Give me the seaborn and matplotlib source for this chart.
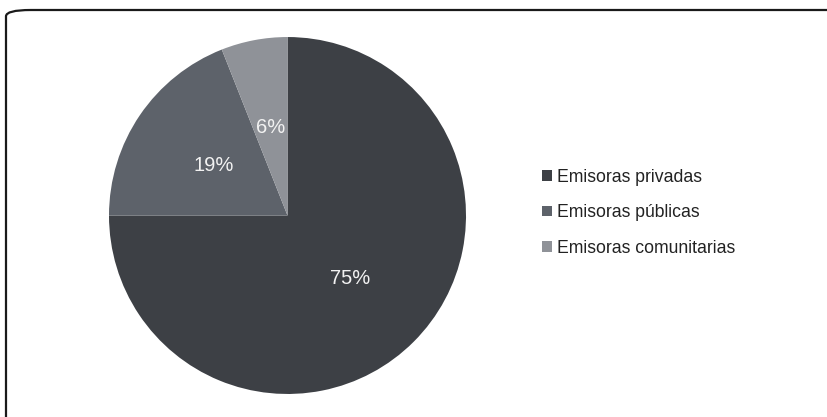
import matplotlib
matplotlib.use('Agg')
import matplotlib.pyplot as plt
import seaborn as sns
from matplotlib.patches import FancyBboxPatch, Patch

sns.set_theme(style='white')
plt.rcParams['font.family'] = ['Liberation Sans', 'DejaVu Sans']

# datos
categorias = ['Emisoras privadas', 'Emisoras públicas', 'Emisoras comunitarias']
porcentajes = [75, 19, 6]
colores = ['#3d4045', '#5d626a', '#8f9298']

fig = plt.figure(figsize=(8.27, 4.17), dpi=100)

# marco redondeado (solo borde superior e izquierdo visibles)
marco = FancyBboxPatch((6 / 827, -0.2), 1.2, 1.2 - 10 / 417,
                       boxstyle='round,pad=0,rounding_size=0.03',
                       transform=fig.transFigure, fill=False,
                       edgecolor='#1a1a1a', linewidth=1.6, mutation_aspect=417 / 827)
fig.patches.append(marco)

ax = fig.add_axes([0.1318, 0.0552, 0.4317, 0.856])
wedges, textos, autotextos = ax.pie(
    porcentajes, colors=colores, startangle=90, counterclock=False,
    autopct='%1.0f%%', pctdistance=0.5,
    wedgeprops={'linewidth': 0, 'edgecolor': 'none'},
    textprops={'color': '#f2f2f2', 'fontsize': 14.5})
ax.set_aspect('auto')
ax.set_xlim(-1, 1)
ax.set_ylim(-1, 1)
ax.axis('off')

handles = [Patch(facecolor=c, edgecolor='none') for c in colores]
fig.legend(handles, categorias, loc='center left', bbox_to_anchor=(0.636, 0.49),
           frameon=False, fontsize=12.7, handlelength=0.55, handleheight=0.55,
           handletextpad=0.3, labelspacing=1.05, labelcolor='#222222')

fig.savefig('out.png', dpi=100)
